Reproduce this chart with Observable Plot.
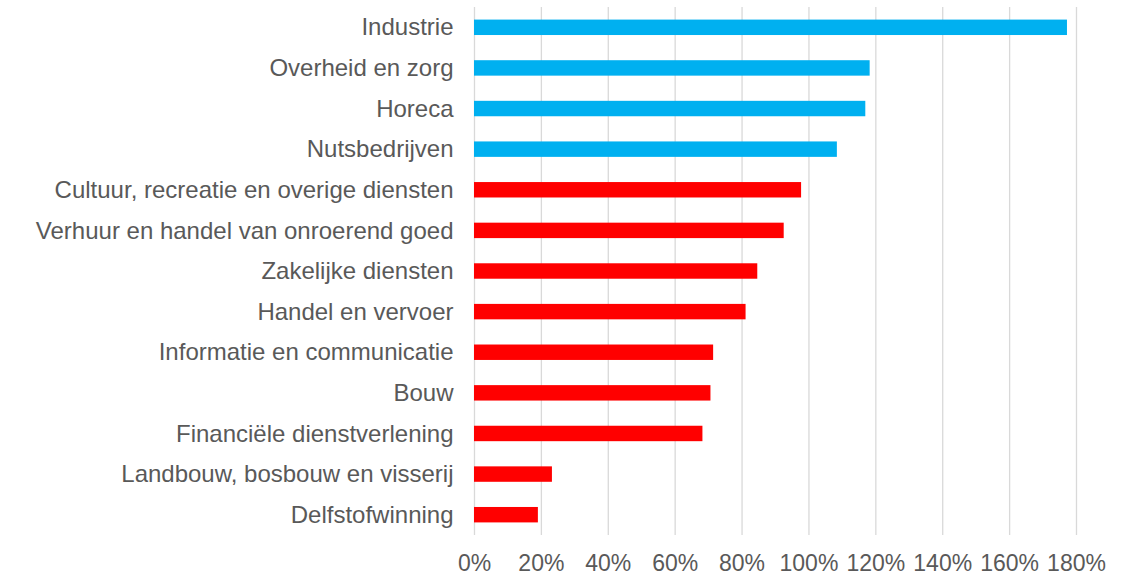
<!DOCTYPE html>
<html><head><meta charset="utf-8">
<script src="https://cdn.jsdelivr.net/npm/d3@7"></script>
<script src="https://cdn.jsdelivr.net/npm/@observablehq/plot@0.6"></script>
<style>body{margin:0;background:#fff}</style>
</head><body><div id="chart"></div>
<script>
const categories = [
  "Industrie",
  "Overheid en zorg",
  "Horeca",
  "Nutsbedrijven",
  "Cultuur, recreatie en overige diensten",
  "Verhuur en handel van onroerend goed",
  "Zakelijke diensten",
  "Handel en vervoer",
  "Informatie en communicatie",
  "Bouw",
  "Financiële dienstverlening",
  "Landbouw, bosbouw en visserij",
  "Delfstofwinning"
];
const values = [1.773, 1.183, 1.170, 1.085, 0.978, 0.926, 0.847, 0.812, 0.715, 0.707, 0.683, 0.233, 0.191];
const groups = ["boven", "boven", "boven", "boven", "onder", "onder", "onder", "onder", "onder", "onder", "onder", "onder", "onder"];
const xTicks = [0, 0.2, 0.4, 0.6, 0.8, 1.0, 1.2, 1.4, 1.6, 1.8];

const data = categories.map((c, i) => ({sector: c, value: values[i], group: groups[i]}));
const pct = d3.format(".0%");

const chart = Plot.plot({
  width: 1136,
  height: 575,
  marginLeft: 474,
  marginRight: 60,
  marginTop: 7,
  marginBottom: 40,
  style: {fontFamily: "'Liberation Sans', Arial, sans-serif", fontSize: "24px", color: "#595959", background: "#fff"},
  x: {domain: [0, 1.8], ticks: xTicks, tickFormat: pct, label: null},
  y: {domain: categories, paddingInner: 0.62, paddingOuter: 0.31, round: false, label: null},
  color: {domain: ["boven", "onder"], range: ["#00B0F0", "#FF0000"]},
  marks: [
    Plot.gridX(xTicks, {stroke: "#d9d9d9", strokeOpacity: 1, strokeWidth: 1.3}),
    Plot.barX(data, {x: "value", y: "sector", fill: "group"}),
    Plot.axisX(xTicks, {tickSize: 0, tickPadding: 19, fontSize: 23, label: null, tickFormat: pct}),
    Plot.axisY({tickSize: 0, tickPadding: 21, fontSize: 24, label: null})
  ]
});
document.getElementById("chart").append(chart);
</script>
</body></html>
